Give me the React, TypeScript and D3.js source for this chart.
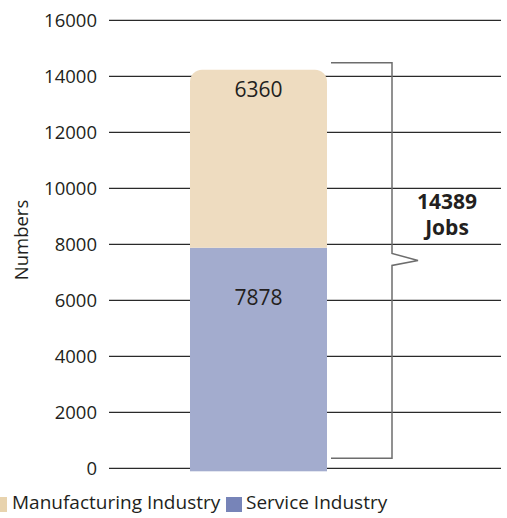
import React from "react";
import * as d3 from "d3";

const categories = ["Jobs"];
const seriesNames = ["Manufacturing Industry", "Service Industry"];
const serviceValues = [7878];
const manufacturingValues = [6360];
const totalLabel = [14389];
const yTicks = [0, 2000, 4000, 6000, 8000, 10000, 12000, 14000, 16000];

const W = 507;
const H = 518;
const FONT = "'Open Sans', 'Noto Sans', sans-serif";

export default function App() {
  const y = d3.scaleLinear().domain([0, 16000]).range([468.3, 20.3]);
  const barX = 190;
  const barW = 137;
  const svc = serviceValues[0];
  const man = manufacturingValues[0];
  const total = svc + man;
  const y0 = y(0) + 3;
  const ySvc = y(svc);
  const yTop = y(total);
  const r = 12;

  const manPath = d3.path();
  manPath.moveTo(barX, ySvc);
  manPath.lineTo(barX, yTop + r);
  manPath.arcTo(barX, yTop, barX + r, yTop, r);
  manPath.lineTo(barX + barW - r, yTop);
  manPath.arcTo(barX + barW, yTop, barX + barW, yTop + r, r);
  manPath.lineTo(barX + barW, ySvc);
  manPath.closePath();

  const bx = 392;
  const bTop = yTop - 7;
  const bBot = y(0) - 10;
  const bMid = (bTop + bBot) / 2;
  const bracket = d3.path();
  bracket.moveTo(331, bTop);
  bracket.lineTo(bx, bTop);
  bracket.lineTo(bx, bMid - 7);
  bracket.lineTo(bx + 26, bMid);
  bracket.lineTo(bx, bMid + 5);
  bracket.lineTo(bx, bBot);
  bracket.lineTo(331, bBot);

  return (
    <svg width={W} height={H} style={{ position: "absolute", left: 0, top: 0, fontFamily: FONT }}>
      <rect width={W} height={H} fill="#fff" />
      {yTicks.map((t) => (
        <g key={t}>
          <line x1={109} x2={501} y1={y(t)} y2={y(t)} stroke="#2a2a2a" strokeWidth={1.2} />
          <text x={97} y={y(t)} dy="0.36em" textAnchor="end" fontSize={18.5} fill="#231f20">
            {t}
          </text>
        </g>
      ))}
      <text
        transform={`translate(28,${240}) rotate(-90)`}
        textAnchor="middle"
        fontSize={18.5}
        fill="#231f20"
      >
        Numbers
      </text>
      <rect x={barX} y={ySvc} width={barW} height={y0 - ySvc} fill="#a3acce" />
      <path d={manPath.toString()} fill="#eedcc0" />
      <text x={barX + barW / 2} y={yTop + 27} textAnchor="middle" fontSize={21} fill="#231f20">
        {man}
      </text>
      <text x={barX + barW / 2} y={ySvc + 57} textAnchor="middle" fontSize={21} fill="#231f20">
        {svc}
      </text>
      <path d={bracket.toString()} fill="none" stroke="#6d6d6d" strokeWidth={1.5} />
      <text x={447} y={209} textAnchor="middle" fontSize={21} fontWeight="bold" fill="#231f20">
        {totalLabel[0]}
      </text>
      <text x={447} y={235} textAnchor="middle" fontSize={21} fontWeight="bold" fill="#231f20">
        {categories[0]}
      </text>
      <rect x={-8} y={497} width={15} height={15} fill="#e8d3ae" />
      <text x={12} y={509} fontSize={19} fill="#231f20">{seriesNames[0]}</text>
      <rect x={226} y={497} width={16} height={15} fill="#7784b8" />
      <text x={246} y={509} fontSize={19} fill="#231f20">{seriesNames[1]}</text>
    </svg>
  );
}
